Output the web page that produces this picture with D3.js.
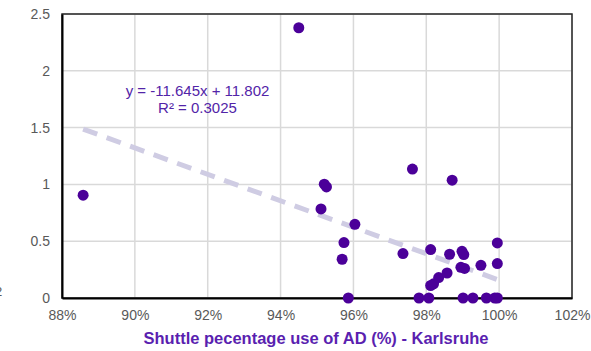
<!DOCTYPE html>
<html>
<head>
<meta charset="utf-8">
<script src="https://cdn.jsdelivr.net/npm/d3@7"></script>
<style>
body { margin: 0; background: #fff; }
</style>
</head>
<body>
<div id="root"></div>
<script>
// shuttle share (x) and value (y)
var shuttleShare = [0.8858, 0.9450, 0.9520, 0.9526, 0.9511, 0.9604, 0.9574, 0.9569, 0.9586,
  0.9736, 0.9762, 0.9871, 0.9812, 0.9864, 0.9898, 0.9903, 0.9895, 0.9905, 0.9950,
  0.9995, 0.9995, 0.9812, 0.9820, 0.9834, 0.9857,
  0.9780, 0.9807, 0.9901, 0.9928, 0.9965, 0.9988, 0.9995];
var yValues = [0.905, 2.379, 1.002, 0.978, 0.784, 0.649, 0.488, 0.341, 0,
  0.391, 1.135, 1.037, 0.426, 0.385, 0.411, 0.382, 0.27, 0.26, 0.288,
  0.485, 0.303, 0.11, 0.125, 0.18, 0.22,
  0, 0, 0, 0, 0, 0, 0];

var xTicks = [0.88, 0.90, 0.92, 0.94, 0.96, 0.98, 1.00, 1.02];
var yTicks = [0, 0.5, 1, 1.5, 2, 2.5];

// excel linear trendline
var trendSlope = -11.645;
var trendIntercept = 11.802;
var trendRange = [0.8858, 1.0];

var width = 591;
var height = 351;
var margin = {top: 14, right: 19, bottom: 53, left: 62};

var svg = d3.select("#root")
  .append("svg")
  .attr("width", width)
  .attr("height", height)
  .style("font-family", "'Liberation Sans', Arial, sans-serif");

var x = d3.scaleLinear()
  .domain([0.88, 1.02])
  .range([margin.left, width - margin.right]);

var y = d3.scaleLinear()
  .domain([0, 2.5])
  .range([height - margin.bottom, margin.top]);

// grid
svg.append("g")
  .selectAll("line")
  .data(xTicks)
  .enter()
  .append("line")
  .attr("x1", function(d) { return x(d); })
  .attr("x2", function(d) { return x(d); })
  .attr("y1", y(0))
  .attr("y2", y(2.5))
  .attr("stroke", "#d9d9d9")
  .attr("stroke-width", 1.5);

svg.append("g")
  .selectAll("line")
  .data(yTicks)
  .enter()
  .append("line")
  .attr("x1", x(0.88))
  .attr("x2", x(1.02))
  .attr("y1", function(d) { return y(d); })
  .attr("y2", function(d) { return y(d); })
  .attr("stroke", "#d9d9d9")
  .attr("stroke-width", 1.5);

// frame
svg.append("rect")
  .attr("x", x(0.88))
  .attr("y", y(2.5))
  .attr("width", x(1.02) - x(0.88))
  .attr("height", y(0) - y(2.5))
  .attr("fill", "none")
  .attr("stroke", "#262626")
  .attr("stroke-width", 1.5);

// axes
var xAxis = d3.axisBottom(x)
  .tickValues(xTicks)
  .tickSize(0)
  .tickPadding(12)
  .tickFormat(d3.format(".0%"));

var yAxis = d3.axisLeft(y)
  .tickValues(yTicks)
  .tickSize(0)
  .tickPadding(12)
  .tickFormat(function(d) { return d; });

var gx = svg.append("g")
  .attr("transform", "translate(0," + y(0) + ")")
  .call(xAxis);
var gy = svg.append("g")
  .attr("transform", "translate(" + x(0.88) + ",0)")
  .call(yAxis);

[gx, gy].forEach(function(g) {
  g.select(".domain").attr("stroke", "#000").attr("stroke-width", 2);
  g.selectAll("text")
    .attr("fill", "#595959")
    .style("font-size", "14px")
    .style("font-family", "'Liberation Sans', Arial, sans-serif");
});

// trendline
svg.append("line")
  .attr("x1", x(trendRange[0]))
  .attr("y1", y(trendSlope * trendRange[0] + trendIntercept))
  .attr("x2", x(trendRange[1]))
  .attr("y2", y(trendSlope * trendRange[1] + trendIntercept))
  .attr("stroke", "#cfcce3")
  .attr("stroke-width", 5)
  .attr("stroke-dasharray", "15,10");

// points
svg.append("g")
  .selectAll("circle")
  .data(shuttleShare)
  .enter()
  .append("circle")
  .attr("cx", function(d) { return x(d); })
  .attr("cy", function(d, i) { return y(yValues[i]); })
  .attr("r", 5.5)
  .attr("fill", "#4b0099");

// equation
svg.append("text")
  .attr("x", 197.5)
  .attr("y", 96)
  .attr("text-anchor", "middle")
  .attr("fill", "#5224a8")
  .style("font-size", "15px")
  .text("y = -11.645x + 11.802");
svg.append("text")
  .attr("x", 197.5)
  .attr("y", 113)
  .attr("text-anchor", "middle")
  .attr("fill", "#5224a8")
  .style("font-size", "15px")
  .text("R² = 0.3025");

// axis title
svg.append("text")
  .attr("x", 316)
  .attr("y", 344)
  .attr("text-anchor", "middle")
  .attr("fill", "#5a1fb0")
  .style("font-size", "16.5px")
  .style("font-weight", "bold")
  .text("Shuttle pecentage use of AD (%) - Karlsruhe");

// clipped y title fragment at left edge
svg.append("text")
  .attr("x", -5)
  .attr("y", 296)
  .attr("fill", "#595959")
  .style("font-size", "13px")
  .text("2");
</script>
</body>
</html>
